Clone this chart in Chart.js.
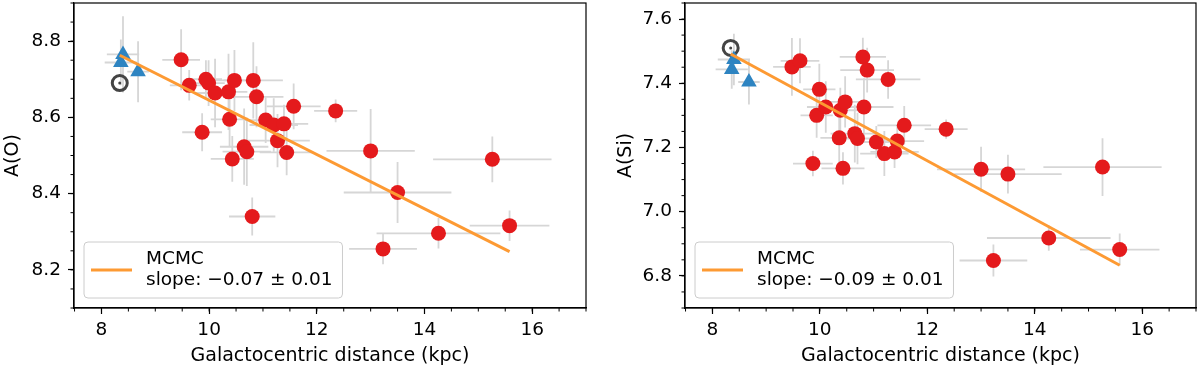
<!DOCTYPE html>
<html>
<head>
<meta charset="utf-8">
<script src="https://cdn.jsdelivr.net/npm/chart.js@4"></script>
<style>
  body { margin: 0; background: #fff; }
  #figura { display: flex; width: 1200px; height: 371px; }
  canvas { display: block; }
</style>
</head>
<body>
<div id="figura">
  <canvas id="graficoO" width="600" height="371"></canvas>
  <canvas id="graficoSi" width="600" height="371"></canvas>
</div>
<script>
// estrelas do aglomerado: distancia galactocentrica (kpc)
const distancia = [9.48, 9.63, 9.87, 9.94, 9.99, 10.11, 10.36, 10.38, 10.43, 10.47, 10.65, 10.70, 10.80, 10.82,
    10.88, 11.05, 11.20, 11.27, 11.39, 11.44, 11.57, 12.35, 13.00, 13.23, 13.50, 14.26, 15.26, 15.58];
const erroDistancia = [0.35, 0.36, 0.37, 0.30, 0.30, 0.35, 0.35, 0.35, 0.40, 0.40, 0.45, 0.45, 0.43, 0.55,
    0.50, 0.40, 0.45, 0.60, 0.45, 0.50, 0.50, 0.40, 0.82, 0.63, 1.00, 1.15, 1.10, 0.74];

const abundanciaO = [8.751, 8.684, 8.561, 8.700, 8.690, 8.664, 8.667, 8.595, 8.491, 8.697, 8.523, 8.510, 8.340, 8.697,
    8.654, 8.593, 8.580, 8.539, 8.583, 8.508, 8.629, 8.617, 8.512, 8.255, 8.403, 8.296, 8.490, 8.316];
const erroO = [0.08, 0.04, 0.05, 0.05, 0.06, 0.09, 0.10, 0.07, 0.06, 0.08, 0.10, 0.09, 0.05, 0.10,
    0.08, 0.06, 0.07, 0.07, 0.05, 0.06, 0.06, 0.03, 0.11, 0.04, 0.08, 0.04, 0.06, 0.04];

const abundanciaSi = [7.451, 7.470, 7.150, 7.300, 7.381, 7.326, 7.230, 7.316, 7.135, 7.342, 7.243, 7.228, 7.482, 7.326,
    7.441, 7.217, 7.181, 7.412, 7.186, 7.220, 7.269, 7.257, 7.132, 6.848, 7.117, 6.918, 7.139, 6.882];
const erroSi = [0.09, 0.07, 0.04, 0.07, 0.08, 0.08, 0.08, 0.07, 0.05, 0.08, 0.09, 0.08, 0.06, 0.09,
    0.07, 0.05, 0.07, 0.06, 0.05, 0.05, 0.06, 0.03, 0.07, 0.05, 0.06, 0.04, 0.09, 0.05];

// estrelas de referencia (triangulos azuis)
const distanciaRef = [8.40, 8.36, 8.68];
const erroDistanciaRef = [0.30, 0.30, 0.20];
const refO = [8.765, 8.744, 8.720];
const erroRefO = [0.10, 0.06, 0.08];
const refSi = [7.474, 7.443, 7.404];
const erroRefSi = [0.08, 0.06, 0.07];

// Sol
const distanciaSol = 8.34;
const solO = 8.69;
const solSi = 7.51;

// ajuste MCMC
const ajusteX = [8.34, 15.58];
const ajusteO = [8.763, 8.248];
const ajusteSi = [7.491, 6.833];
const textoAjuste = 'MCMC';
const inclinacaoO = 'slope: −0.07 ± 0.01';
const inclinacaoSi = 'slope: −0.09 ± 0.01';

// ticks
const ticksDistancia = [8, 10, 12, 14, 16];
const ticksO = [8.2, 8.4, 8.6, 8.8];
const ticksSi = [6.8, 7.0, 7.2, 7.4, 7.6];

const fonte = '"DejaVu Sans", sans-serif';

const barrasErro = {
    id: 'barrasErro',
    beforeDatasetsDraw(chart) {
        const ctx = chart.ctx;
        const a = chart.chartArea;
        const ex = chart.scales.x;
        const ey = chart.scales.y;
        ctx.save();
        ctx.beginPath();
        ctx.rect(a.left, a.top, a.right - a.left, a.bottom - a.top);
        ctx.clip();
        ctx.strokeStyle = '#d6d6d6';
        ctx.lineWidth = 1.8;
        chart.data.datasets.forEach(ds => {
            if (!ds.erros) return;
            ds.data.forEach((p, i) => {
                const px = ex.getPixelForValue(p.x);
                const py = ey.getPixelForValue(p.y);
                ctx.beginPath();
                ctx.moveTo(ex.getPixelForValue(p.x - ds.erros.x[i]), py);
                ctx.lineTo(ex.getPixelForValue(p.x + ds.erros.x[i]), py);
                ctx.moveTo(px, ey.getPixelForValue(p.y - ds.erros.y[i]));
                ctx.lineTo(px, ey.getPixelForValue(p.y + ds.erros.y[i]));
                ctx.stroke();
            });
        });
        ctx.restore();
    }
};

const moldura = {
    id: 'moldura',
    afterDatasetsDraw(chart, args, opts) {
        const ctx = chart.ctx;
        const a = chart.chartArea;
        const ex = chart.scales.x;
        const ey = chart.scales.y;
        ctx.save();
        ctx.strokeStyle = '#000';
        ctx.lineWidth = 1.2;
        ctx.strokeRect(a.left, a.top, a.right - a.left, a.bottom - a.top);

        // ticks menores
        ctx.lineWidth = 1;
        ctx.beginPath();
        for (let n = Math.ceil(ex.min / opts.menorX - 1e-9); n * opts.menorX <= ex.max + 1e-9; n++) {
            const px = ex.getPixelForValue(n * opts.menorX);
            ctx.moveTo(px, a.bottom);
            ctx.lineTo(px, a.bottom + 3.5);
        }
        for (let n = Math.ceil(ey.min / opts.menorY - 1e-9); n * opts.menorY <= ey.max + 1e-9; n++) {
            const py = ey.getPixelForValue(n * opts.menorY);
            ctx.moveTo(a.left, py);
            ctx.lineTo(a.left - 3.5, py);
        }
        ctx.stroke();
        ctx.restore();
    }
};

const legendaAjuste = {
    id: 'legendaAjuste',
    afterDatasetsDraw(chart, args, opts) {
        const ctx = chart.ctx;
        const a = chart.chartArea;
        const ds = chart.data.datasets[0];
        ctx.save();
        ctx.font = '18.5px ' + fonte;
        const largura = 62 + Math.max(...opts.linhas.map(t => ctx.measureText(t).width)) + 10;
        const altura = 56;
        const x0 = a.left + 10;
        const y0 = a.bottom - 10 - altura;
        const r = 4;

        ctx.beginPath();
        ctx.moveTo(x0 + r, y0);
        ctx.arcTo(x0 + largura, y0, x0 + largura, y0 + altura, r);
        ctx.arcTo(x0 + largura, y0 + altura, x0, y0 + altura, r);
        ctx.arcTo(x0, y0 + altura, x0, y0, r);
        ctx.arcTo(x0, y0, x0 + largura, y0, r);
        ctx.closePath();
        ctx.fillStyle = 'rgba(255,255,255,0.8)';
        ctx.fill();
        ctx.strokeStyle = '#cccccc';
        ctx.lineWidth = 1;
        ctx.stroke();

        const meio = y0 + altura / 2;
        ctx.strokeStyle = ds.borderColor;
        ctx.lineWidth = ds.borderWidth;
        ctx.beginPath();
        ctx.moveTo(x0 + 7, meio);
        ctx.lineTo(x0 + 48, meio);
        ctx.stroke();

        ctx.fillStyle = '#000';
        ctx.textBaseline = 'middle';
        ctx.fillText(opts.linhas[0], x0 + 62, meio - 11);
        ctx.fillText(opts.linhas[1], x0 + 62, meio + 10);
        ctx.restore();
    }
};

function criarGrafico(idCanvas, cfg) {
    const estrelas = distancia.map((d, i) => ({ x: d, y: cfg.abundancia[i] }));
    const referencia = distanciaRef.map((d, i) => ({ x: d, y: cfg.ref[i] }));
    const linhaAjuste = ajusteX.map((x, i) => ({ x: x, y: cfg.ajuste[i] }));
    const sol = [{ x: distanciaSol, y: cfg.sol }];

    new Chart(document.getElementById(idCanvas), {
        type: 'scatter',
        data: {
            datasets: [{
                label: textoAjuste,
                type: 'line',
                data: linhaAjuste,
                borderColor: '#fd9a33',
                borderWidth: 3,
                pointRadius: 0,
                fill: false,
                order: 0
            }, {
                label: 'referencia',
                data: referencia,
                pointStyle: 'triangle',
                pointRadius: 9,
                backgroundColor: '#2e84c1',
                borderWidth: 0,
                erros: { x: erroDistanciaRef, y: cfg.erroRef },
                order: 1
            }, {
                label: 'Sol',
                data: sol,
                pointStyle: 'circle',
                pointRadius: 7.5,
                backgroundColor: 'rgba(0,0,0,0)',
                borderColor: '#444444',
                borderWidth: 3,
                order: 2
            }, {
                label: 'Sol centro',
                data: sol,
                pointRadius: 1.5,
                backgroundColor: '#444444',
                borderWidth: 0,
                order: 2
            }, {
                label: 'estrelas',
                data: estrelas,
                pointRadius: 7.5,
                backgroundColor: '#e41a1c',
                borderWidth: 0,
                erros: { x: erroDistancia, y: cfg.erro },
                order: 3
            }]
        },
        options: {
            responsive: false,
            animation: false,
            events: [],
            layout: {
                autoPadding: false,
                padding: { top: 3, right: cfg.direita, left: 0, bottom: 0 }
            },
            scales: {
                x: {
                    type: 'linear',
                    min: 7.49,
                    max: 17.0,
                    afterFit: (escala) => {
                        escala.height = 63;
                        escala.paddingLeft = 0;
                        escala.paddingRight = 0;
                    },
                    afterBuildTicks: (escala) => { escala.ticks = ticksDistancia.map(v => ({ value: v })); },
                    grid: { display: true, drawOnChartArea: false, tickLength: 6, tickColor: '#000', tickWidth: 1.2 },
                    border: { display: true, color: '#000', width: 1.2 },
                    ticks: {
                        color: '#000',
                        padding: 5,
                        font: { family: fonte, size: 18.5 },
                        callback: (v) => String(v)
                    },
                    title: {
                        display: true,
                        text: 'Galactocentric distance (kpc)',
                        color: '#000',
                        font: { family: fonte, size: 19 },
                        padding: { top: 0, bottom: 4 }
                    }
                },
                y: {
                    type: 'linear',
                    min: cfg.yMin,
                    max: cfg.yMax,
                    afterFit: (escala) => {
                        escala.width = cfg.larguraY;
                        escala.paddingTop = 0;
                        escala.paddingBottom = 0;
                    },
                    afterBuildTicks: (escala) => { escala.ticks = cfg.ticks.map(v => ({ value: v })); },
                    grid: { display: true, drawOnChartArea: false, tickLength: 6, tickColor: '#000', tickWidth: 1.2 },
                    border: { display: true, color: '#000', width: 1.2 },
                    ticks: {
                        color: '#000',
                        padding: 7,
                        font: { family: fonte, size: 18.5 },
                        callback: (v) => Number(v).toFixed(1)
                    },
                    title: {
                        display: true,
                        text: cfg.titulo,
                        color: '#000',
                        font: { family: fonte, size: 19 },
                        padding: { top: cfg.tituloPad, bottom: 0 }
                    }
                }
            },
            plugins: {
                legend: { display: false },
                tooltip: { enabled: false },
                moldura: { menorX: 0.5, menorY: 0.05 },
                legendaAjuste: { linhas: [textoAjuste, cfg.inclinacao] }
            }
        },
        plugins: [barrasErro, moldura, legendaAjuste]
    });
}

criarGrafico('graficoO', {
    abundancia: abundanciaO, erro: erroO,
    ref: refO, erroRef: erroRefO,
    sol: solO, ajuste: ajusteO,
    inclinacao: inclinacaoO,
    ticks: ticksO, yMin: 8.1, yMax: 8.9,
    titulo: 'A(O)', tituloPad: 2,
    larguraY: 74, direita: 14
});

criarGrafico('graficoSi', {
    abundancia: abundanciaSi, erro: erroSi,
    ref: refSi, erroRef: erroRefSi,
    sol: solSi, ajuste: ajusteSi,
    inclinacao: inclinacaoSi,
    ticks: ticksSi, yMin: 6.7, yMax: 7.65,
    titulo: 'A(Si)', tituloPad: 14.6,
    larguraY: 85, direita: 4
});
</script>
</body>
</html>
